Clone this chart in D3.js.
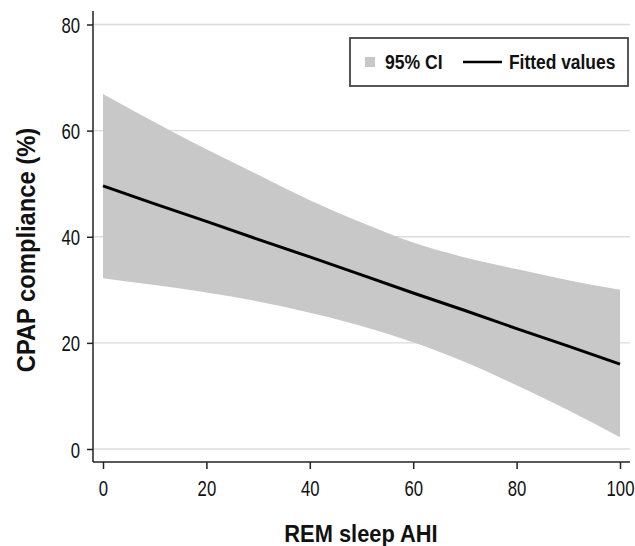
<!DOCTYPE html>
<html>
<head>
<meta charset="utf-8">
<script src="https://cdn.jsdelivr.net/npm/d3@7"></script>
<style>
  html, body { margin: 0; padding: 0; background: #fff; }
  svg { display: block; }
  text { font-family: "Liberation Sans", Arial, sans-serif; }
</style>
</head>
<body>
<svg id="chart" width="635" height="546"></svg>
<script>
// ---- data ----
const ahi        = [0, 10, 20, 30, 40, 50, 60, 70, 80, 90, 100];
const fitted     = [49.6, 46.2, 42.9, 39.5, 36.2, 32.8, 29.4, 26.1, 22.7, 19.4, 16.0];
const ciUpper    = [66.9, 61.6, 56.5, 51.7, 46.9, 42.7, 38.9, 36.1, 33.9, 31.8, 30.0];
const ciLower    = [32.2, 30.9, 29.5, 27.8, 25.7, 23.2, 20.1, 16.4, 12.0, 7.3, 2.2];
const xTicks     = [0, 20, 40, 60, 80, 100];
const yTicks     = [0, 20, 40, 60, 80];
const xTitle     = "REM sleep AHI";
const yTitle     = "CPAP compliance (%)";
const legendCI   = "95% CI";
const legendFit  = "Fitted values";

const svg = d3.select("#chart");

const x = d3.scaleLinear().domain([0, 100]).range([103, 620]);
const y = d3.scaleLinear().domain([0, 80]).range([449, 24.5]);

const axisX0 = 93, axisY0 = 462, plotRight = 630, plotTop = 11;
const squeeze = 0.76;

// gridlines
svg.append("g").selectAll("line").data(yTicks).join("line")
  .attr("x1", axisX0).attr("x2", plotRight)
  .attr("y1", d => y(d)).attr("y2", d => y(d))
  .attr("stroke", "#dcdcdc").attr("stroke-width", 1.3);

const pts = ahi.map((a, i) => ({a, f: fitted[i], u: ciUpper[i], l: ciLower[i]}));

// CI band
svg.append("path").datum(pts)
  .attr("d", d3.area().x(d => x(d.a)).y0(d => y(d.l)).y1(d => y(d.u)).curve(d3.curveMonotoneX))
  .attr("fill", "#c8c8c8");

// fitted line
svg.append("path").datum(pts)
  .attr("d", d3.line().x(d => x(d.a)).y(d => y(d.f)))
  .attr("fill", "none").attr("stroke", "#000").attr("stroke-width", 3);

// y axis
const yAxis = svg.append("g").attr("transform", `translate(${axisX0},0)`)
  .call(d3.axisLeft(y).tickValues(yTicks).tickSize(6).tickFormat(d3.format("d")));
yAxis.select(".domain").remove();
yAxis.append("line").attr("x1", 0).attr("x2", 0).attr("y1", plotTop).attr("y2", axisY0)
  .attr("stroke", "#222").attr("stroke-width", 1.5);
yAxis.selectAll(".tick line").attr("stroke", "#222").attr("stroke-width", 1.5);
yAxis.selectAll(".tick text")
  .attr("x", 0).attr("y", 0).attr("dy", null)
  .attr("transform", `translate(-13,8) scale(${squeeze},1)`)
  .attr("text-anchor", "end")
  .attr("font-family", "Liberation Sans, Arial, sans-serif")
  .attr("font-size", 22).attr("fill", "#111");

// x axis
const xAxis = svg.append("g").attr("transform", `translate(0,${axisY0})`)
  .call(d3.axisBottom(x).tickValues(xTicks).tickSize(7).tickFormat(d3.format("d")));
xAxis.select(".domain").remove();
xAxis.append("line").attr("x1", axisX0).attr("x2", plotRight).attr("y1", 0).attr("y2", 0)
  .attr("stroke", "#222").attr("stroke-width", 1.5);
xAxis.selectAll(".tick line").attr("stroke", "#222").attr("stroke-width", 1.5);
xAxis.selectAll(".tick text")
  .attr("x", 0).attr("y", 0).attr("dy", null)
  .attr("transform", `translate(0,34) scale(${squeeze},1)`)
  .attr("text-anchor", "middle")
  .attr("font-family", "Liberation Sans, Arial, sans-serif")
  .attr("font-size", 22).attr("fill", "#111");

// axis titles
svg.append("text")
  .attr("transform", "translate(361,542) scale(0.95,1)").attr("text-anchor", "middle")
  .attr("font-weight", "bold").attr("font-size", 23).attr("fill", "#111").text(xTitle);

svg.append("text")
  .attr("transform", "translate(35,250) rotate(-90) scale(0.95,1)").attr("text-anchor", "middle")
  .attr("font-weight", "bold").attr("font-size", 25).attr("fill", "#111").text(yTitle);

// legend
const lg = svg.append("g");
lg.append("rect").attr("x", 350).attr("y", 38).attr("width", 278).attr("height", 48)
  .attr("fill", "#fff").attr("stroke", "#444").attr("stroke-width", 1.8);
lg.append("rect").attr("x", 365).attr("y", 57).attr("width", 10).attr("height", 10).attr("fill", "#c8c8c8");
lg.append("text").attr("transform", "translate(385,69) scale(0.88,1)")
  .attr("font-weight", "bold").attr("font-size", 20).attr("fill", "#111").text(legendCI);
lg.append("line").attr("x1", 463).attr("x2", 502).attr("y1", 62).attr("y2", 62)
  .attr("stroke", "#000").attr("stroke-width", 2.5);
lg.append("text").attr("transform", "translate(509,69) scale(0.87,1)")
  .attr("font-weight", "bold").attr("font-size", 20).attr("fill", "#111").text(legendFit);
</script>
</body>
</html>
